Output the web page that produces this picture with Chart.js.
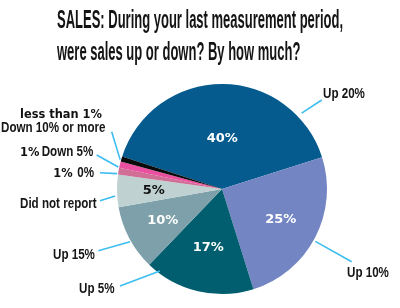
<!DOCTYPE html>
<html>
<head>
<meta charset="utf-8">
<script src="https://cdn.jsdelivr.net/npm/chart.js@4/dist/chart.umd.min.js"></script>
<style>
html,body{margin:0;padding:0;background:#fff;}
#wrap{position:relative;width:400px;height:308px;}
</style>
</head>
<body>
<div id="wrap"><canvas id="c" width="400" height="308"></canvas></div>
<script>
// ---- data ----
const titleLines = ['SALES: During your last measurement period,', 'were sales up or down? By how much?'];
const categories = ['Up 20%', 'Up 10%', 'Up 5%', 'Up 15%', 'Did not report', '0%', 'Down 5%', 'Down 10% or more'];
const values = [40, 25, 17, 10, 5, 1, 1, 0.8];
const valueLabels = ['40%', '25%', '17%', '10%', '5%', '1%', '1%', 'less than 1%'];
const colors = ['#055b8e', '#7385c3', '#005e6e', '#7da0aa', '#bfd1d1', '#d06e96', '#ec50a0', '#0b0b0b'];

// ---- layout (styling only) ----
const innerLabelStyle = [
  {r: 0.48, color: '#ffffff'}, {r: 0.63, color: '#ffffff'}, {r: 0.57, color: '#ffffff'},
  {r: 0.64, color: '#ffffff'}, {r: 0.65, color: '#111111'}, null, null, null
];
// outer label: text position, leader start, anchor fraction along slice, radial gap
const outerLayout = [
  {tx: 323, ty: 98, lx: 321.7, ly: 100, frac: 0.82, gap: 5, mode: 'name'},
  {tx: 347, ty: 277, lx: 351.7, ly: 261.7, frac: 0.52, gap: 2, mode: 'name'},
  {tx: 79, ty: 293, lx: 120, ly: 286, frac: 0.89, gap: -2, mode: 'name'},
  {tx: 53, ty: 259, lx: 98.3, ly: 250.7, frac: 0.45, gap: 1, mode: 'name'},
  {tx: 20, ty: 208, lx: 100, ly: 200.7, frac: 0.35, gap: 2, mode: 'name'},
  {tx: 53.3, ty: 176.5, nx: 77.3, lx: 100, ly: 172.7, frac: 0.1, gap: 1, mode: 'prefix'},
  {tx: 20, ty: 156, nx: 41.7, lx: 96.7, ly: 155, frac: 0.1, gap: 1, mode: 'prefix'},
  {tx: 1, ty: 131.5, vx: 20, vy: 117.5, lx: 111.7, ly: 131.7, frac: 0.3, gap: 1, mode: 'above'}
];

const NARROW = "'Liberation Sans Narrow', 'Liberation Sans', 'DejaVu Sans', sans-serif";
function drawText(ctx, str, x, y, font, color, sx, align) {
  ctx.save();
  ctx.font = font;
  ctx.fillStyle = color;
  ctx.textBaseline = 'alphabetic';
  ctx.textAlign = align || 'left';
  ctx.translate(x, y);
  ctx.scale(sx, 1);
  ctx.fillText(str, 0, 0);
  ctx.restore();
}
function widthOf(ctx, str, font) { ctx.save(); ctx.font = font; const w = ctx.measureText(str).width; ctx.restore(); return w; }

const labelPlugin = {
  id: 'labelPlugin',
  afterDraw(chart) {
    const ctx = chart.ctx;
    // title
    const tFont = "bold 26px " + NARROW;
    const sx = 286 / widthOf(ctx, titleLines[0], tFont);
    drawText(ctx, titleLines[0], 57, 28.3, tFont, '#141414', sx);
    drawText(ctx, titleLines[1], 57, 60, tFont, '#141414', sx);

    const meta = chart.getDatasetMeta(0);
    const oFont = "bold 14px " + NARROW;
    const lblSx = 76.7 / widthOf(ctx, 'Did not report', oFont);
    const vFont = "bold 13px 'DejaVu Sans', sans-serif";
    meta.data.forEach((arc, i) => {
      const p = arc.getProps(['x', 'y', 'startAngle', 'endAngle', 'outerRadius'], true);
      const mid = (p.startAngle + p.endAngle) / 2;
      // inner labels
      const st = innerLabelStyle[i];
      if (st) {
        const rx = p.x + Math.cos(mid) * p.outerRadius * st.r;
        const ry = p.y + Math.sin(mid) * p.outerRadius * st.r;
        ctx.save();
        ctx.font = vFont; ctx.fillStyle = st.color;
        ctx.textAlign = 'center'; ctx.textBaseline = 'middle';
        ctx.fillText(valueLabels[i], rx, ry);
        ctx.restore();
      }
      // leader lines
      const L = outerLayout[i];
      const a = p.startAngle + (p.endAngle - p.startAngle) * L.frac;
      const ex = p.x + Math.cos(a) * (p.outerRadius + L.gap);
      const ey = p.y + Math.sin(a) * (p.outerRadius + L.gap);
      ctx.save();
      ctx.strokeStyle = '#3cbef0';
      ctx.lineWidth = 1.6;
      ctx.beginPath(); ctx.moveTo(L.lx, L.ly); ctx.lineTo(ex, ey); ctx.stroke();
      ctx.restore();
      // outer text
      if (L.mode === 'name') {
        drawText(ctx, categories[i], L.tx, L.ty, oFont, '#161616', lblSx);
      } else if (L.mode === 'prefix') {
        drawText(ctx, valueLabels[i], L.tx, L.ty, "bold 12px 'DejaVu Sans', sans-serif", '#111111', 0.95);
        drawText(ctx, categories[i], L.nx, L.ty, oFont, '#161616', lblSx);
      } else {
        drawText(ctx, valueLabels[i], L.vx, L.vy, "bold 12px 'DejaVu Sans', sans-serif", '#111111', 0.95);
        drawText(ctx, categories[i], L.tx, L.ty, oFont, '#161616', lblSx);
      }
    });
  }
};

new Chart(document.getElementById('c'), {
  type: 'pie',
  data: {
    labels: categories,
    datasets: [{
      data: values,
      backgroundColor: colors,
      borderWidth: 0
    }]
  },
  options: {
    responsive: false,
    animation: false,
    rotation: -71.9,
    layout: {padding: {left: 117, right: 73, top: 84, bottom: 14}},
    plugins: {legend: {display: false}, tooltip: {enabled: false}, title: {display: false}}
  },
  plugins: [labelPlugin]
});
</script>
</body>
</html>
